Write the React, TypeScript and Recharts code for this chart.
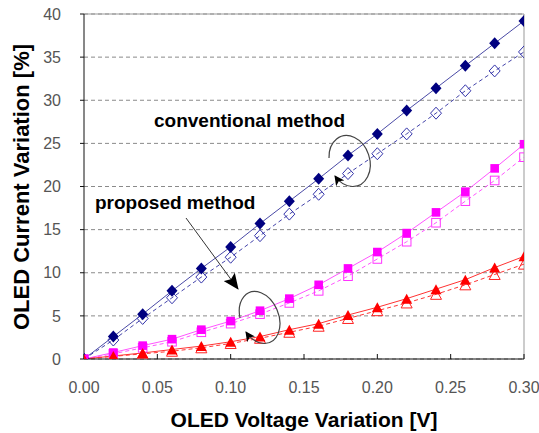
import React from 'react';
import { LineChart, Line, XAxis, YAxis, CartesianGrid, ReferenceLine } from 'recharts';

// OLED voltage variation [V]
const volts = [0, 0.02, 0.04, 0.06, 0.08, 0.1, 0.12, 0.14, 0.16, 0.18, 0.2, 0.22, 0.24, 0.26, 0.28, 0.3];

// current variation [%]
const diamondFilled = [0, 2.6, 5.2, 7.9, 10.5, 13.0, 15.7, 18.3, 20.9, 23.6, 26.1, 28.8, 31.4, 34.0, 36.6, 39.2];
const diamondOpen = [0, 2.2, 4.7, 7.1, 9.5, 11.8, 14.3, 16.8, 19.1, 21.5, 23.8, 26.1, 28.5, 31.1, 33.4, 35.6];
const squareFilled = [0, 0.75, 1.55, 2.3, 3.4, 4.4, 5.6, 7.0, 8.6, 10.5, 12.4, 14.6, 17.0, 19.4, 22.1, 24.9];
const squareOpen = [0, 0.6, 1.3, 2.0, 3.1, 4.1, 5.2, 6.5, 7.9, 9.6, 11.6, 13.6, 15.8, 18.3, 20.7, 23.4];
const triangleFilled = [0, 0.35, 0.7, 1.1, 1.5, 2.0, 2.6, 3.4, 4.1, 5.1, 6.0, 7.0, 8.1, 9.2, 10.6, 11.9];
const triangleOpen = [0, 0.3, 0.6, 0.9, 1.3, 1.8, 2.4, 3.1, 3.8, 4.7, 5.6, 6.5, 7.5, 8.6, 9.8, 11.0];

const xTicks = [0, 0.05, 0.1, 0.15, 0.2, 0.25, 0.3];
const yTicks = [0, 5, 10, 15, 20, 25, 30, 35, 40];

const data = volts.map((v, i) => ({
  v,
  df: diamondFilled[i],
  dop: diamondOpen[i],
  sf: squareFilled[i],
  sop: squareOpen[i],
  tf: triangleFilled[i],
  top: triangleOpen[i],
}));

const Marker = (props: any) => {
  const { cx, cy, shape, filled, color } = props;
  if (cx == null || cy == null) return null;
  const fill = filled ? color : 'none';
  const sw = filled ? 0 : 1;
  if (shape === 'diamond') {
    const w = 5.5, h = 6;
    return (
      <polygon
        points={`${cx},${cy - h} ${cx + w},${cy} ${cx},${cy + h} ${cx - w},${cy}`}
        fill={fill}
        stroke={color}
        strokeWidth={sw}
      />
    );
  }
  if (shape === 'square') {
    const s = 4.3;
    return <rect x={cx - s} y={cy - s} width={s * 2} height={s * 2} fill={fill} stroke={color} strokeWidth={sw} />;
  }
  const w = 5.5, h = 5;
  return (
    <polygon
      points={`${cx},${cy - h} ${cx + w},${cy + h} ${cx - w},${cy + h}`}
      fill={fill}
      stroke={color}
      strokeWidth={sw}
    />
  );
};

const series = [
  { key: 'dop', color: '#3333aa', shape: 'diamond', filled: false },
  { key: 'sop', color: '#ff33ff', shape: 'square', filled: false },
  { key: 'top', color: '#ff2222', shape: 'triangle', filled: false },
  { key: 'df', color: '#000080', shape: 'diamond', filled: true },
  { key: 'sf', color: '#ff00ff', shape: 'square', filled: true },
  { key: 'tf', color: '#ff0000', shape: 'triangle', filled: true },
];

const lineColor: Record<string, string> = {
  dop: '#4444aa',
  sop: '#ff55ff',
  top: '#ff3333',
  df: '#4a4aa6',
  sf: '#ff55ff',
  tf: '#ff3333',
};

export default function App() {
  return (
    <div style={{ position: 'absolute', left: 0, top: 0, width: 539, height: 433, background: '#fff' }}>
      <LineChart
        width={539}
        height={433}
        data={data}
        margin={{ top: 14, right: 15, bottom: 0, left: 0 }}
        style={{ fontFamily: '"Liberation Sans", Arial, sans-serif' }}
      >
        <CartesianGrid vertical={false} strokeDasharray="4 3" stroke="#8a8a8a" />
        <ReferenceLine y={40} stroke="#999" />
        <ReferenceLine x={0.3} stroke="#999" />
        <XAxis
          type="number"
          dataKey="v"
          domain={[0, 0.3]}
          ticks={xTicks}
          tickFormatter={(t: number) => t.toFixed(2)}
          height={74}
          stroke="#111"
          tickSize={-5}
          tickMargin={28}
          tick={{ fill: '#555', fontSize: 16 }}
          allowDataOverflow
        />
        <YAxis
          type="number"
          domain={[0, 40]}
          ticks={yTicks}
          width={84}
          stroke="#111"
          tickSize={4}
          tickMargin={19}
          tick={{ fill: '#555', fontSize: 16 }}
          allowDataOverflow
        />
        {series.map((s) => (
          <Line
            key={s.key}
            dataKey={s.key}
            type="linear"
            stroke={lineColor[s.key]}
            strokeWidth={1}
            strokeDasharray={s.filled ? undefined : '4 3'}
            isAnimationActive={false}
            dot={(p: any) => (
              <Marker key={`${s.key}-${p.index}`} cx={p.cx} cy={p.cy} shape={s.shape} filled={s.filled} color={s.color} />
            )}
            activeDot={false}
          />
        ))}
      </LineChart>
      <svg
        width={539}
        height={433}
        style={{ position: 'absolute', left: 0, top: 0, pointerEvents: 'none', fontFamily: '"Liberation Sans", Arial, sans-serif' }}
      >
        <defs>
          <marker id="head" markerWidth="10" markerHeight="10" refX="9" refY="5" orient="auto" markerUnits="userSpaceOnUse">
            <path d="M0,0 L10,5 L0,10 L2.5,5 Z" fill="#000" />
          </marker>
          <marker id="bighead" markerWidth="16" markerHeight="14" refX="15" refY="7" orient="auto" markerUnits="userSpaceOnUse">
            <path d="M0,0 L16,7 L0,14 L3,7 Z" fill="#000" />
          </marker>
        </defs>
        <text x={154} y={127} fontSize={19} fontWeight="bold" fill="#000">conventional method</text>
        <text x={95} y={209} fontSize={19} fontWeight="bold" fill="#000">proposed method</text>
        <line x1={186} y1={218} x2={238} y2={289} stroke="#333" strokeWidth={1} markerEnd="url(#bighead)" />
        <path d="M 329 158 A 20 26 -18 1 1 335 176" fill="none" stroke="#444" strokeWidth={1.2} markerEnd="url(#head)" />
        <path d="M 240 318 A 19 27 -22 1 1 246 332" fill="none" stroke="#444" strokeWidth={1.2} markerEnd="url(#head)" />
        <text x={304} y={427} fontSize={21} fontWeight="bold" textAnchor="middle" fill="#000">OLED Voltage Variation [V]</text>
        <text
          x={0}
          y={0}
          fontSize={22}
          fontWeight="bold"
          textAnchor="middle"
          fill="#000"
          transform="translate(29,187) rotate(-90)"
        >
          OLED Current Variation [%]
        </text>
      </svg>
    </div>
  );
}
